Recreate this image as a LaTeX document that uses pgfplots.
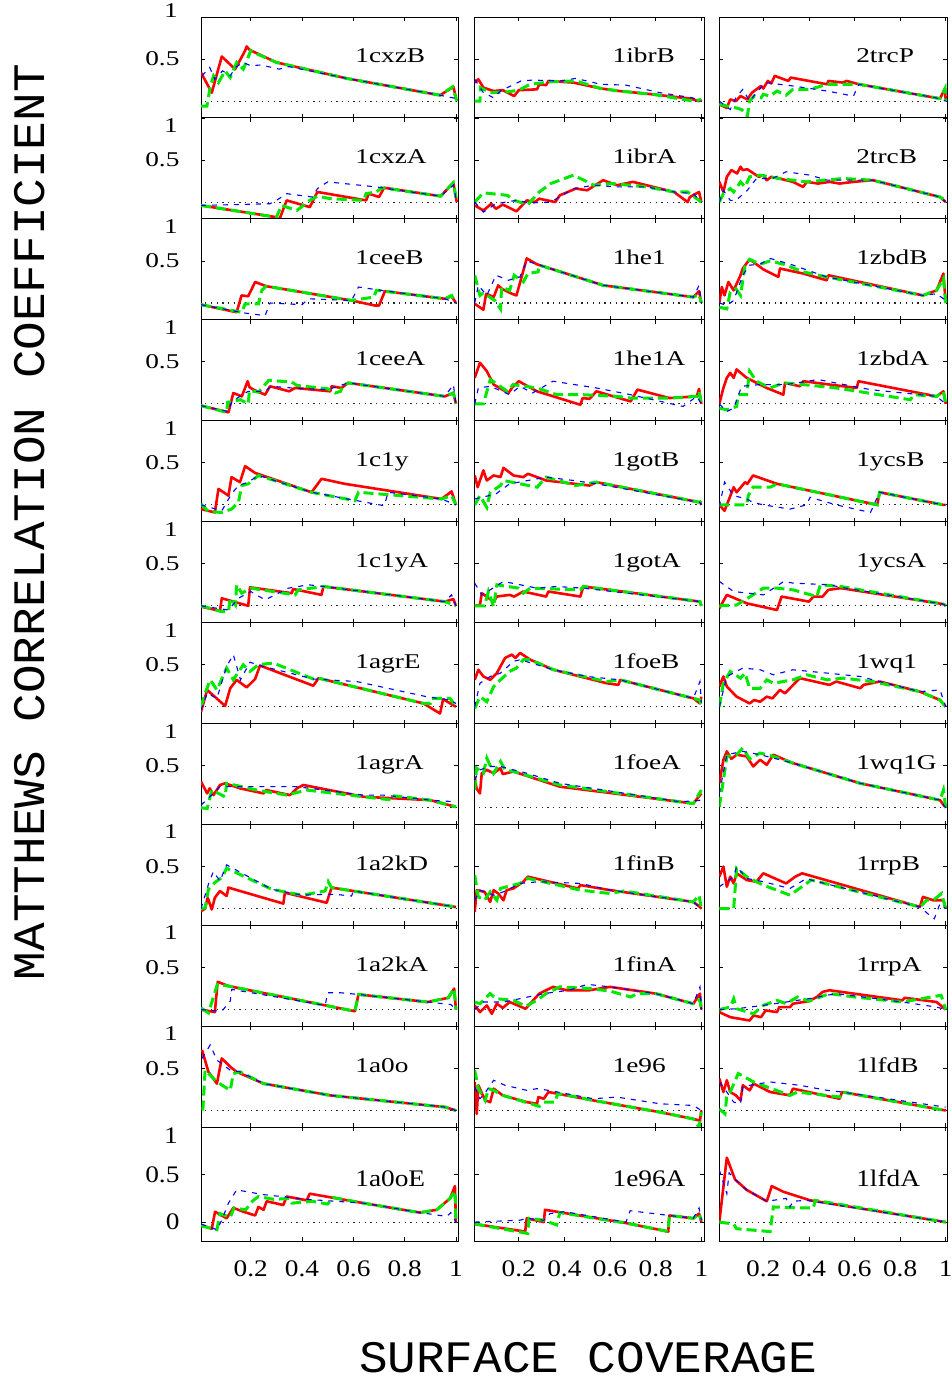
\documentclass[border=0pt]{standalone}
\usepackage{fontspec}
\usepackage{graphicx}
\setmainfont{Liberation Serif}[FakeStretch=1.3]
\newfontfamily\monofont{Liberation Mono}[FakeStretch=1.06]
\usepackage{pgfplots}
\pgfplotsset{compat=1.18}
\definecolor{gnred}{RGB}{255,0,0}
\definecolor{gngreen}{RGB}{0,232,0}
\definecolor{gnblue}{RGB}{0,0,255}
\newcommand\vs[1]{\scalebox{1}[1.13]{#1}}
\tikzset{onelab/.style={anchor=east, inner sep=0pt, xshift=-23pt, font=\fontsize{21}{21}\selectfont},
 ttl/.style={anchor=base west, inner sep=0pt, font=\fontsize{21}{21}\selectfont}}
\pgfplotsset{
 pan/.style={scale only axis, anchor=north west, ymin=-0.2, ymax=1, clip=true,
   xtick={0.2,0.4,0.6,0.8,1}, ytick={0.5,1}, xticklabels={}, yticklabels={},
   tick align=inside, major tick length=4pt, tick style={black, line width=0.8pt},
   axis line style={black, line width=1pt},
   every tick label/.append style={font=\fontsize{21}{21}\selectfont},
   yticklabel style={xshift=-18pt},
   xticklabel style={yshift=-16pt},
   height=100.94pt},
 c1/.style={width=257pt, xmin=0.006, xmax=1.008},
 c2/.style={width=229.6pt, xmin=0.007, xmax=1.013},
 c3/.style={width=228pt, xmin=0.007, xmax=1.007},
 ylt/.style={yticklabels={0.5,{}}, extra description/.code={\node[onelab, yshift=6pt] at (rel axis cs:0,1) {1};}},
 yl/.style={yticklabels={0.5,{}}, extra description/.code={\node[onelab, yshift=-7.5pt] at (rel axis cs:0,1) {1};}},
 last/.style={height=113.7pt, ytick={0,0.5,1}, xticklabels={\vs{0.2},\vs{0.4},\vs{0.6},\vs{0.8},\vs{1}}},
 lastl/.style={last, yticklabels={\vs{0},\vs{0.5},{}}, extra description/.code={\node[onelab, yshift=-8pt] at (rel axis cs:0,1) {\vs{1}};}},
 zl/.style={black!85, line width=1.1pt, dash pattern=on 1.3pt off 4.4pt},
 rl/.style={gnred, line width=2.6pt, line join=round},
 gl/.style={gngreen, line width=3pt, dash pattern=on 10pt off 5pt},
 bl/.style={gnblue, line width=1.1pt, dash pattern=on 5pt off 6pt},
}
\newcommand\panel[9]{%
\begin{axis}[pan,#1,at={(#2pt,-#3pt)},#4]
\addplot[zl] coordinates {(0,0)(1.02,0)};
\addplot[rl] coordinates {#7};
\addplot[gl] coordinates {#8};
\addplot[bl] coordinates {#9};
\node[ttl] at (rel axis cs:0.6,#6) {#5};
\end{axis}}
\begin{document}
\begin{tikzpicture}
\path[use as bounding box] (0pt,0pt) rectangle (952pt,-1379pt);
% ---------------- column 1 ----------------
\panel{c1}{201}{17}{ylt}{1cxzB}{0.545}
{(0.006,0.34)(0.048,0.10)(0.087,0.53)(0.139,0.38)(0.171,0.56)(0.178,0.60)(0.184,0.65)(0.195,0.61)(0.30,0.46)(0.574,0.27)(0.938,0.07)(0.99,0.17)(1.003,0)}
{(0.006,-0.06)(0.029,-0.06)(0.042,0.17)(0.055,0.30)(0.074,0.22)(0.10,0.36)(0.12,0.28)(0.145,0.46)(0.171,0.38)(0.20,0.60)(0.21,0.58)(0.30,0.46)(0.574,0.27)(0.938,0.07)(0.987,0.17)(1.003,0)}
{(0.01,0.30)(0.04,0.40)(0.06,0.26)(0.09,0.36)(0.12,0.30)(0.14,0.40)(0.17,0.46)(0.20,0.42)(0.24,0.43)(0.31,0.38)(0.35,0.41)(0.574,0.27)(0.938,0.07)(0.97,0.05)(1.003,0.03)}
\panel{c1}{201}{117.94}{yl}{1cxzA}{0.545}
{(0.006,-0.04)(0.30,-0.18)(0.31,-0.22)(0.34,0.02)(0.43,-0.06)(0.46,0.12)(0.65,0.02)(0.66,0.10)(0.70,0.06)(0.72,0.17)(0.94,0.07)(0.99,0.23)(1.003,0)}
{(0.006,-0.04)(0.30,-0.18)(0.32,-0.04)(0.38,-0.10)(0.43,0.02)(0.46,0.07)(0.51,0.04)(0.64,0.02)(0.65,0.10)(0.69,0.12)(0.71,0.17)(0.94,0.07)(0.99,0.23)(1.003,0)}
{(0.006,-0.04)(0.275,-0.02)(0.30,0.02)(0.34,0.10)(0.44,0.06)(0.46,0.16)(0.50,0.24)(0.69,0.18)(0.94,0.07)(0.99,0.20)(1.003,0)}
\panel{c1}{201}{218.88}{yl}{1ceeB}{0.545}
{(0.006,-0.02)(0.145,-0.11)(0.164,0.09)(0.19,0.08)(0.217,0.25)(0.26,0.20)(0.593,0.03)(0.684,-0.03)(0.70,-0.03)(0.723,0.14)(0.957,0.05)(0.983,0.08)(1.0,0)}
{(0.006,-0.02)(0.165,-0.11)(0.178,-0.01)(0.23,-0.01)(0.243,0.15)(0.26,0.20)(0.593,0.03)(0.68,0.07)(0.69,0.15)(0.723,0.14)(0.957,0.05)(0.983,0.09)(1.0,0)}
{(0.006,-0.02)(0.178,-0.12)(0.256,-0.15)(0.275,0)(0.40,-0.02)(0.425,0.05)(0.593,0.03)(0.62,0.19)(0.71,0.15)(0.957,0.05)(1.0,0)}
\panel{c1}{201}{319.82}{yl}{1ceeA}{0.545}
{(0.006,-0.02)(0.113,-0.10)(0.132,0.13)(0.165,0.09)(0.188,0.27)(0.195,0.20)(0.21,0.17)(0.256,0.11)(0.275,0.21)(0.35,0.15)(0.373,0.19)(0.51,0.15)(0.515,0.21)(0.554,0.19)(0.58,0.25)(0.957,0.09)(0.99,0.13)(1.0,0)}
{(0.006,-0.02)(0.106,-0.10)(0.11,0.02)(0.16,0.05)(0.19,0.0)(0.195,0.16)(0.23,0.14)(0.27,0.28)(0.36,0.26)(0.38,0.22)(0.50,0.18)(0.53,0.13)(0.55,0.15)(0.56,0.22)(0.58,0.25)(0.957,0.09)(0.99,0.13)(1.0,0)}
{(0.006,-0.02)(0.113,-0.09)(0.126,0.03)(0.19,0.15)(0.256,0.15)(0.28,0.21)(0.36,0.19)(0.50,0.17)(0.58,0.25)(0.957,0.09)(0.99,0.23)(1.0,0)}
\panel{c1}{201}{420.76}{yl}{1c1y}{0.545}
{(0.006,-0.05)(0.06,-0.09)(0.074,0.19)(0.113,0.11)(0.125,0.33)(0.158,0.27)(0.178,0.46)(0.217,0.38)(0.437,0.15)(0.476,0.31)(0.567,0.25)(0.944,0.07)(0.983,0.16)(1.0,0)}
{(0.006,0.01)(0.035,-0.08)(0.087,-0.09)(0.125,-0.05)(0.152,0.03)(0.165,0.23)(0.19,0.25)(0.23,0.35)(0.437,0.15)(0.606,0.05)(0.62,0.15)(0.944,0.07)(0.983,0.11)(1.0,0)}
{(0.006,0)(0.087,-0.07)(0.125,0.13)(0.152,0.23)(0.19,0.27)(0.23,0.35)(0.437,0.15)(0.72,-0.01)(0.736,0.15)(0.944,0.07)(1.0,0)}
\panel{c1}{201}{521.70}{yl}{1c1yA}{0.545}
{(0.006,-0.01)(0.08,-0.06)(0.087,0.09)(0.19,0)(0.197,0.22)(0.36,0.15)(0.365,0.20)(0.476,0.13)(0.483,0.23)(0.957,0.05)(0.99,0.08)(1.0,0)}
{(0.006,0)(0.087,-0.07)(0.113,-0.07)(0.12,0.09)(0.14,0.01)(0.145,0.25)(0.165,0.15)(0.20,0.21)(0.373,0.13)(0.385,0.19)(0.437,0.21)(0.483,0.23)(0.957,0.05)(1.0,0)}
{(0.006,0)(0.113,-0.05)(0.152,0.09)(0.20,0.17)(0.256,0.07)(0.346,0.21)(0.425,0.25)(0.483,0.23)(0.957,0.05)(0.983,0.13)(1.0,0)}
\panel{c1}{201}{622.64}{yl}{1agrE}{0.545}
{(0.006,-0.06)(0.03,0.20)(0.10,0.01)(0.12,0.22)(0.145,0.32)(0.184,0.23)(0.217,0.33)(0.236,0.49)(0.444,0.25)(0.464,0.34)(0.873,0.04)(0.938,-0.08)(0.95,0.09)(1.0,0)}
{(0.006,0)(0.022,0.16)(0.042,0.32)(0.068,0.20)(0.106,0.46)(0.132,0.32)(0.171,0.50)(0.197,0.42)(0.23,0.50)(0.288,0.52)(0.444,0.33)(0.464,0.34)(0.873,0.04)(0.90,0.04)(0.905,0.10)(0.977,0.10)(1.0,0)}
{(0.006,-0.04)(0.03,0.16)(0.068,0.10)(0.106,0.48)(0.132,0.62)(0.16,0.32)(0.197,0.53)(0.236,0.49)(0.444,0.33)(0.613,0.30)(0.885,0.12)(0.977,0.08)(1.0,0.04)}
\panel{c1}{201}{723.58}{yl}{1agrA}{0.545}
{(0.006,0.31)(0.03,0.17)(0.04,0.23)(0.055,0.15)(0.08,0.27)(0.10,0.29)(0.158,0.23)(0.25,0.17)(0.26,0.21)(0.353,0.15)(0.38,0.23)(0.405,0.27)(0.64,0.13)(0.90,0.09)(1.0,0.01)}
{(0.006,0)(0.03,-0.01)(0.048,0.21)(0.10,0.13)(0.106,0.29)(0.223,0.21)(0.34,0.15)(0.418,0.21)(0.64,0.13)(0.756,0.09)(0.76,0.14)(0.90,0.09)(1.0,0.01)}
{(0.006,0.03)(0.04,0.13)(0.08,0.25)(0.25,0.25)(0.38,0.25)(0.64,0.15)(0.717,0.15)(0.90,0.09)(1.0,0.07)}
\panel{c1}{201}{824.52}{yl}{1a2kD}{0.545}
{(0.006,-0.03)(0.022,0)(0.032,0.13)(0.048,-0.01)(0.06,0.13)(0.08,0.21)(0.106,0.15)(0.113,0.25)(0.327,0.06)(0.333,0.19)(0.496,0.07)(0.515,0.25)(1.0,0.02)}
{(0.006,0)(0.022,0.01)(0.035,0.23)(0.06,0.31)(0.087,0.37)(0.106,0.48)(0.282,0.23)(0.40,0.16)(0.49,0.21)(0.502,0.32)(0.515,0.25)(1.0,0.02)}
{(0.006,0)(0.035,0.29)(0.054,0.44)(0.08,0.33)(0.106,0.52)(0.282,0.23)(0.40,0.16)(0.49,0.17)(0.53,0.17)(0.593,0.15)(0.60,0.21)(1.0,0.02)}
\panel{c1}{201}{925.46}{yl}{1a2kA}{0.545}
{(0.006,0)(0.06,-0.03)(0.071,0.33)(0.113,0.28)(0.606,-0.02)(0.62,0.18)(0.89,0.09)(0.97,0.14)(0.993,0.25)(1.0,0)}
{(0.006,0.02)(0.035,-0.04)(0.07,0.30)(0.113,0.28)(0.606,-0.02)(0.62,0.18)(0.89,0.09)(0.97,0.14)(0.993,0.25)(1.0,0)}
{(0.006,0)(0.087,-0.02)(0.12,0.10)(0.126,0.24)(0.49,0.05)(0.50,0.20)(0.55,0.20)(0.62,0.18)(0.89,0.09)(0.98,0.06)(1.0,0)}
\panel{c1}{201}{1026.40}{yl}{1a0o}{0.545}
{(0.01,0.72)(0.035,0.46)(0.068,0.32)(0.087,0.62)(0.12,0.52)(0.145,0.46)(0.25,0.32)(0.51,0.18)(0.96,0.04)(1.0,0)}
{(0.013,0)(0.022,0.48)(0.068,0.34)(0.12,0.24)(0.132,0.44)(0.158,0.46)(0.25,0.32)(0.51,0.18)(0.96,0.04)(1.0,0)}
{(0.01,0.62)(0.042,0.78)(0.068,0.60)(0.12,0.48)(0.158,0.46)(0.25,0.32)(0.51,0.18)(0.96,0.04)(1.0,0)}
\panel{c1}{201}{1127.34}{lastl}{\vs{1a0oE}}{0.484}
{(0.006,-0.03)(0.048,-0.07)(0.061,0.11)(0.106,0.04)(0.132,0.15)(0.171,0.11)(0.217,0.07)(0.23,0.16)(0.25,0.13)(0.262,0.22)(0.327,0.18)(0.34,0.27)(0.418,0.23)(0.43,0.30)(0.64,0.20)(0.86,0.10)(0.925,0.13)(0.977,0.25)(0.996,0.38)(1.0,0)}
{(0.006,-0.04)(0.068,-0.08)(0.08,0.09)(0.12,0.05)(0.135,0.15)(0.18,0.13)(0.21,0.23)(0.23,0.27)(0.29,0.24)(0.35,0.25)(0.36,0.20)(0.44,0.22)(0.50,0.19)(0.52,0.26)(0.64,0.20)(0.86,0.10)(0.925,0.13)(0.977,0.25)(0.996,0.33)(1.0,0)}
{(0.006,-0.02)(0.068,-0.08)(0.087,0.02)(0.113,0.20)(0.145,0.34)(0.25,0.29)(0.42,0.24)(0.64,0.20)(0.86,0.10)(0.964,0.06)(0.98,0.10)(1.0,0)}
% ---------------- column 2 ----------------
\panel{c2}{474.7}{17}{}{1ibrB}{0.545}
{(0.007,0.22)(0.023,0.26)(0.045,0.16)(0.09,0.12)(0.13,0.13)(0.18,0.06)(0.20,0.13)(0.28,0.14)(0.29,0.20)(0.32,0.19)(0.33,0.24)(0.44,0.22)(0.56,0.15)(0.64,0.12)(0.79,0.08)(0.95,0.03)(0.99,0)(1.0,0.02)}
{(0.007,0)(0.03,0)(0.032,0.16)(0.075,0.10)(0.15,0.11)(0.20,0.13)(0.25,0.20)(0.34,0.23)(0.45,0.24)(0.56,0.15)(0.64,0.12)(0.79,0.08)(0.965,0)(1.0,0.02)}
{(0.007,0.26)(0.045,0.10)(0.09,0.04)(0.12,0.12)(0.21,0.24)(0.26,0.25)(0.38,0.24)(0.45,0.27)(0.56,0.20)(0.67,0.19)(0.82,0.10)(0.96,0.04)(1.0,0)}
\panel{c2}{474.7}{117.94}{}{1ibrA}{0.545}
{(0.007,-0.04)(0.045,-0.10)(0.08,-0.02)(0.10,-0.08)(0.13,-0.03)(0.19,-0.11)(0.235,0.02)(0.27,0)(0.29,0.04)(0.36,0)(0.38,0.08)(0.45,0.16)(0.50,0.14)(0.57,0.26)(0.63,0.20)(0.70,0.24)(0.88,0.12)(0.94,0)(0.95,0.06)(0.99,0.12)(1.0,0)}
{(0.007,0)(0.045,0.11)(0.15,0.08)(0.18,0.02)(0.24,-0.03)(0.29,0.12)(0.34,0.22)(0.44,0.32)(0.53,0.20)(0.61,0.22)(0.76,0.18)(0.88,0.12)(0.94,0.12)(1.0,0)}
{(0.007,0)(0.045,-0.12)(0.10,-0.02)(0.19,0.02)(0.25,-0.01)(0.34,0)(0.44,0.16)(0.53,0.20)(0.63,0.18)(0.76,0.18)(0.88,0.12)(0.965,0.10)(1.0,0)}
\panel{c2}{474.7}{218.88}{}{1he1}{0.545}
{(0.007,-0.01)(0.045,-0.08)(0.057,0.11)(0.09,0.07)(0.11,0.21)(0.125,0.17)(0.17,0.11)(0.19,0.09)(0.235,0.53)(0.28,0.46)(0.57,0.21)(0.965,0.07)(0.99,0.14)(1.0,0)}
{(0.007,0.33)(0.03,0.09)(0.045,0.12)(0.095,0.03)(0.12,-0.07)(0.125,0.19)(0.16,0.15)(0.18,0.33)(0.22,0.25)(0.24,0.35)(0.285,0.37)(0.29,0.45)(0.57,0.21)(0.965,0.07)(0.99,0.10)(1.0,0)}
{(0.007,0)(0.023,0.21)(0.06,0.09)(0.10,0.33)(0.155,0.27)(0.205,0.31)(0.235,0.50)(0.28,0.46)(0.57,0.21)(0.965,0.07)(0.99,0.21)(1.0,0)}
\panel{c2}{474.7}{319.82}{}{1he1A}{0.545}
{(0.007,0.31)(0.03,0.49)(0.06,0.39)(0.09,0.23)(0.155,0.13)(0.17,0.19)(0.20,0.27)(0.28,0.15)(0.47,-0.01)(0.48,0.07)(0.51,0.06)(0.54,0.15)(0.69,0.03)(0.72,0.17)(0.86,0.07)(0.98,0.09)(0.99,0.18)(1.0,0)}
{(0.007,0)(0.045,0)(0.075,0.29)(0.15,0.15)(0.175,0.23)(0.28,0.19)(0.367,0.11)(0.48,0.11)(0.63,0.09)(0.69,0.07)(0.78,0.07)(0.86,0.07)(0.98,0.09)(0.99,0.15)(1.0,0)}
{(0.007,0)(0.023,0.19)(0.075,0.21)(0.16,0.11)(0.205,0.21)(0.26,0.13)(0.35,0.27)(0.54,0.19)(0.69,0.11)(0.92,-0.03)(0.98,0.09)(1.0,0)}
\panel{c2}{474.7}{420.76}{}{1gotB}{0.545}
{(0.007,0.35)(0.02,0.21)(0.045,0.41)(0.06,0.29)(0.09,0.35)(0.12,0.33)(0.133,0.44)(0.177,0.35)(0.22,0.33)(0.24,0.37)(0.32,0.29)(0.51,0.23)(0.54,0.27)(0.994,0.03)(1.0,0)}
{(0.007,0)(0.03,0.11)(0.06,-0.03)(0.075,0.15)(0.12,0.23)(0.133,0.29)(0.28,0.21)(0.32,0.33)(0.45,0.23)(0.54,0.27)(0.994,0.03)(1.0,0.05)}
{(0.007,0.07)(0.10,0.13)(0.16,0.25)(0.20,0.27)(0.32,0.33)(0.44,0.29)(0.54,0.25)(0.994,0.03)(1.0,0)}
\panel{c2}{474.7}{521.70}{}{1gotA}{0.545}
{(0.007,0)(0.03,0.01)(0.038,0.15)(0.09,0.05)(0.104,0.11)(0.16,0.13)(0.18,0.11)(0.22,0.17)(0.32,0.11)(0.33,0.17)(0.47,0.11)(0.483,0.23)(0.994,0.05)(1.0,0)}
{(0.007,0)(0.05,0)(0.067,0.17)(0.09,-0.01)(0.104,0.25)(0.20,0.21)(0.22,0.15)(0.25,0.21)(0.47,0.19)(0.483,0.23)(0.994,0.05)(1.0,0)}
{(0.007,0.27)(0.038,0.13)(0.075,0.19)(0.133,0.29)(0.28,0.21)(0.365,0.23)(0.483,0.21)(0.994,0.05)(1.0,0)}
\panel{c2}{474.7}{622.64}{}{1foeB}{0.545}
{(0.007,0.32)(0.023,0.44)(0.045,0.36)(0.075,0.32)(0.104,0.40)(0.14,0.58)(0.17,0.62)(0.185,0.58)(0.206,0.64)(0.25,0.56)(0.352,0.44)(0.585,0.28)(0.637,0.26)(0.644,0.32)(0.965,0.10)(0.994,0.04)(1.0,0.12)}
{(0.007,-0.02)(0.03,0.12)(0.06,0.06)(0.09,0.24)(0.12,0.32)(0.16,0.42)(0.19,0.46)(0.22,0.56)(0.25,0.56)(0.352,0.44)(0.585,0.30)(0.644,0.32)(0.965,0.10)(0.994,0.08)(1.0,0)}
{(0.007,0)(0.03,0.28)(0.075,0.36)(0.12,0.40)(0.177,0.54)(0.206,0.56)(0.352,0.44)(0.50,0.36)(0.644,0.32)(0.965,0.10)(0.994,0.30)(1.0,0.05)}
\panel{c2}{474.7}{723.58}{}{1foeA}{0.545}
{(0.007,0.37)(0.015,0.23)(0.03,0.17)(0.038,0.41)(0.06,0.45)(0.09,0.41)(0.12,0.47)(0.13,0.40)(0.177,0.43)(0.38,0.25)(0.907,0.07)(0.965,0.05)(1.0,0.17)}
{(0.007,0.21)(0.015,0.47)(0.045,0.41)(0.06,0.59)(0.09,0.41)(0.12,0.55)(0.14,0.45)(0.177,0.43)(0.38,0.27)(0.907,0.07)(0.965,0.05)(1.0,0.21)}
{(0.007,0.33)(0.03,0.45)(0.075,0.49)(0.12,0.49)(0.235,0.41)(0.38,0.29)(0.907,0.07)(1.0,0.09)}
\panel{c2}{474.7}{824.52}{}{1finB}{0.545}
{(0.007,-0.04)(0.016,0.22)(0.05,0.20)(0.075,0.08)(0.09,0.22)(0.11,0.18)(0.133,0.10)(0.147,0.22)(0.177,0.24)(0.22,0.32)(0.24,0.38)(0.46,0.24)(0.47,0.28)(0.60,0.22)(0.965,0.08)(0.994,0.02)(1.0,0)}
{(0.007,0.40)(0.023,0.14)(0.05,0.10)(0.075,0.20)(0.104,0.10)(0.12,0.24)(0.147,0.26)(0.206,0.30)(0.24,0.36)(0.47,0.22)(0.60,0.18)(0.66,0.21)(0.965,0.08)(0.99,0.16)(1.0,0)}
{(0.007,0.10)(0.03,0.22)(0.09,0.16)(0.133,0.20)(0.206,0.30)(0.29,0.32)(0.47,0.30)(0.60,0.22)(0.965,0.08)(1.0,0)}
\panel{c2}{474.7}{925.46}{}{1finA}{0.545}
{(0.007,0.05)(0.03,-0.03)(0.06,0.05)(0.082,-0.05)(0.104,0.07)(0.13,0.02)(0.16,0.09)(0.23,0.01)(0.29,0.19)(0.35,0.27)(0.41,0.23)(0.51,0.23)(0.60,0.27)(0.80,0.19)(0.965,0.07)(0.994,0.19)(1.0,0)}
{(0.007,0.09)(0.03,0.07)(0.075,0.19)(0.10,0.13)(0.177,0.11)(0.23,0.04)(0.28,0.11)(0.32,0.19)(0.38,0.27)(0.51,0.25)(0.60,0.22)(0.69,0.15)(0.72,0.19)(0.80,0.19)(0.965,0.07)(0.994,0.12)(1.0,0)}
{(0.007,0)(0.045,0.09)(0.133,0.09)(0.206,0.13)(0.31,0.19)(0.42,0.23)(0.50,0.30)(0.60,0.27)(0.80,0.19)(0.965,0.07)(0.994,0.27)(1.0,0)}
\panel{c2}{474.7}{1026.40}{}{1e96}{0.545}
{(0.007,0.34)(0.016,-0.04)(0.023,0.30)(0.053,0.12)(0.075,0.10)(0.09,0.26)(0.13,0.18)(0.235,0.10)(0.28,0.08)(0.286,0.16)(0.31,0.14)(0.33,0.22)(0.527,0.12)(0.82,-0.02)(0.965,-0.10)(0.994,-0.12)(1.0,0)}
{(0.007,0.48)(0.023,0.26)(0.053,0.12)(0.067,0.26)(0.09,0.24)(0.13,0.18)(0.29,0.05)(0.31,0.10)(0.36,0.10)(0.37,0.20)(0.40,0.19)(0.527,0.12)(0.82,-0.02)(0.965,-0.10)(0.99,-0.20)(1.0,-0.02)}
{(0.007,0.28)(0.03,0.14)(0.05,0.20)(0.09,0.36)(0.14,0.30)(0.235,0.24)(0.28,0.26)(0.33,0.24)(0.527,0.14)(0.63,0.16)(0.82,0.08)(0.965,0.06)(1.0,0)}
\panel{c2}{474.7}{1127.34}{last}{\vs{1e96A}}{0.484}
{(0.007,-0.02)(0.228,-0.10)(0.235,0.04)(0.31,0)(0.315,0.13)(0.67,-0.01)(0.855,-0.10)(0.86,0.07)(0.965,0.04)(0.99,0.09)(1.0,0)}
{(0.007,-0.02)(0.24,-0.12)(0.245,0.04)(0.31,0.02)(0.366,-0.03)(0.38,0.10)(0.67,-0.01)(0.855,-0.10)(0.86,0.07)(0.965,0.04)(0.99,0.09)(1.0,0.02)}
{(0.007,0)(0.206,0.02)(0.235,0.04)(0.31,0.02)(0.337,0.09)(0.40,0.11)(0.67,0)(0.688,0.12)(0.86,0.07)(0.965,0.04)(0.99,0.15)(1.0,0.02)}
% ---------------- column 3 ----------------
\panel{c3}{719.3}{17}{}{2trcP}{0.545}
{(0.007,-0.04)(0.04,-0.08)(0.055,0.02)(0.08,0)(0.10,0.06)(0.13,0.02)(0.15,0.10)(0.19,0.18)(0.20,0.15)(0.22,0.24)(0.235,0.21)(0.25,0.30)(0.31,0.24)(0.32,0.28)(0.48,0.20)(0.485,0.24)(0.55,0.22)(0.565,0.24)(0.62,0.20)(0.975,0.03)(0.997,0.15)(1.0,0)}
{(0.007,-0.04)(0.08,-0.08)(0.105,-0.10)(0.13,-0.18)(0.14,0)(0.16,0.06)(0.19,0.04)(0.20,0.08)(0.23,0.06)(0.26,0.12)(0.30,0.07)(0.33,0.14)(0.405,0.14)(0.48,0.20)(0.62,0.20)(0.975,0.03)(0.997,0.15)(1.0,0)}
{(0.007,0)(0.055,-0.10)(0.08,0.04)(0.11,0.14)(0.14,0)(0.17,0.10)(0.21,0.22)(0.33,0.18)(0.48,0.12)(0.595,0.06)(0.62,0.20)(0.975,0.03)(1.0,0)}
\panel{c3}{719.3}{117.94}{}{2trcB}{0.545}
{(0.007,0.24)(0.025,0.12)(0.04,0.30)(0.06,0.38)(0.085,0.34)(0.10,0.42)(0.11,0.38)(0.13,0.39)(0.18,0.30)(0.20,0.32)(0.215,0.26)(0.235,0.30)(0.27,0.28)(0.33,0.24)(0.375,0.18)(0.39,0.24)(0.44,0.22)(0.49,0.24)(0.535,0.22)(0.595,0.24)(0.68,0.26)(0.975,0.06)(1.0,0)}
{(0.007,0)(0.025,0.10)(0.055,0.16)(0.07,0.12)(0.10,0.24)(0.12,0.18)(0.14,0.30)(0.185,0.32)(0.27,0.28)(0.39,0.24)(0.55,0.28)(0.68,0.26)(0.975,0.06)(1.0,0.02)}
{(0.007,0)(0.025,0.14)(0.055,0.02)(0.08,0.02)(0.13,0.14)(0.17,0.28)(0.24,0.28)(0.30,0.36)(0.405,0.32)(0.48,0.26)(0.55,0.26)(0.68,0.26)(0.975,0.06)(1.0,0)}
\panel{c3}{719.3}{218.88}{}{1zbdB}{0.545}
{(0.007,0)(0.018,0.19)(0.03,0.09)(0.047,0.25)(0.07,0.15)(0.10,0.33)(0.11,0.41)(0.14,0.52)(0.20,0.40)(0.266,0.31)(0.273,0.41)(0.375,0.35)(0.478,0.27)(0.485,0.33)(0.90,0.09)(0.96,0.15)(0.99,0.35)(1.0,0)}
{(0.007,-0.05)(0.04,-0.07)(0.055,0.13)(0.08,0.17)(0.10,0.09)(0.12,0.45)(0.14,0.52)(0.185,0.46)(0.23,0.50)(0.29,0.46)(0.375,0.37)(0.478,0.31)(0.90,0.09)(0.96,0.15)(0.99,0.29)(1.0,0)}
{(0.007,0)(0.04,-0.03)(0.07,0.03)(0.11,0.33)(0.14,0.45)(0.185,0.46)(0.23,0.53)(0.32,0.46)(0.478,0.31)(0.90,0.09)(0.96,0.11)(1.0,0.03)}
\panel{c3}{719.3}{319.82}{}{1zbdA}{0.545}
{(0.007,0)(0.025,0.19)(0.04,0.31)(0.055,0.37)(0.07,0.31)(0.083,0.41)(0.127,0.31)(0.215,0.19)(0.288,0.11)(0.295,0.25)(0.36,0.21)(0.375,0.27)(0.61,0.19)(0.617,0.27)(0.96,0.09)(0.99,0.15)(1.0,0)}
{(0.007,-0.05)(0.04,-0.07)(0.083,-0.03)(0.09,0.11)(0.127,0.11)(0.14,0.39)(0.17,0.27)(0.23,0.19)(0.29,0.25)(0.375,0.23)(0.52,0.19)(0.845,0.05)(0.86,0.11)(0.96,0.09)(0.99,0.15)(1.0,0)}
{(0.007,0)(0.04,-0.09)(0.07,-0.05)(0.105,0.21)(0.185,0.23)(0.30,0.23)(0.44,0.29)(0.67,0.17)(0.96,0.09)(1.0,0)}
\panel{c3}{719.3}{420.76}{}{1ycsB}{0.545}
{(0.007,0)(0.03,-0.07)(0.07,0.21)(0.083,0.15)(0.12,0.27)(0.13,0.25)(0.155,0.35)(0.26,0.25)(0.70,0)(0.71,0.15)(0.99,0)(1.0,0)}
{(0.007,0)(0.127,0)(0.134,0.11)(0.155,0.21)(0.23,0.21)(0.26,0.25)(0.70,0)(0.71,0.15)(0.99,0)(1.0,0)}
{(0.007,-0.02)(0.03,0.27)(0.07,0.11)(0.127,0.07)(0.155,0.03)(0.20,0)(0.317,-0.05)(0.39,0)(0.405,0.09)(0.52,0)(0.67,-0.09)(0.71,0.15)(0.99,0)(1.0,0)}
\panel{c3}{719.3}{521.70}{}{1ycsA}{0.545}
{(0.007,-0.03)(0.04,0.13)(0.127,0.03)(0.26,-0.05)(0.28,0.11)(0.40,0.05)(0.42,0.11)(0.46,0.11)(0.485,0.19)(0.54,0.21)(0.99,0.02)(1.0,0)}
{(0.007,0)(0.083,0.01)(0.155,0.13)(0.20,0.21)(0.26,0.21)(0.33,0.19)(0.435,0.11)(0.45,0.25)(0.54,0.23)(0.99,0.02)(1.0,0)}
{(0.007,0.29)(0.07,0.17)(0.20,0.13)(0.29,0.29)(0.33,0.27)(0.49,0.25)(0.54,0.22)(0.99,0.02)(1.0,0)}
\panel{c3}{719.3}{622.64}{}{1wq1}{0.545}
{(0.007,0.24)(0.025,0.36)(0.04,0.24)(0.083,0.12)(0.14,0.04)(0.16,0.08)(0.186,0.06)(0.215,0.12)(0.24,0.10)(0.273,0.20)(0.295,0.16)(0.36,0.34)(0.49,0.26)(0.52,0.30)(0.625,0.22)(0.64,0.26)(0.71,0.30)(0.887,0.18)(0.975,0.08)(1.0,0)}
{(0.007,0)(0.025,0.28)(0.055,0.42)(0.10,0.34)(0.12,0.40)(0.14,0.22)(0.186,0.22)(0.215,0.32)(0.244,0.28)(0.33,0.32)(0.39,0.38)(0.48,0.32)(0.55,0.34)(0.68,0.30)(0.887,0.18)(0.975,0.08)(1.0,0)}
{(0.007,0)(0.04,0.36)(0.11,0.46)(0.186,0.44)(0.244,0.38)(0.33,0.44)(0.48,0.40)(0.625,0.36)(0.71,0.30)(0.887,0.18)(0.975,0.20)(1.0,0)}
\panel{c3}{719.3}{723.58}{}{1wq1G}{0.545}
{(0.007,0.29)(0.025,0.57)(0.04,0.67)(0.06,0.58)(0.083,0.63)(0.127,0.61)(0.156,0.49)(0.186,0.57)(0.215,0.51)(0.244,0.63)(0.33,0.53)(0.625,0.29)(0.975,0.09)(1.0,0)}
{(0.007,0.01)(0.025,0.33)(0.04,0.61)(0.083,0.63)(0.11,0.71)(0.14,0.58)(0.186,0.65)(0.244,0.61)(0.33,0.53)(0.625,0.29)(0.975,0.09)(0.99,0.21)(1.0,0)}
{(0.007,0.17)(0.04,0.63)(0.11,0.67)(0.186,0.63)(0.33,0.53)(0.625,0.29)(0.975,0.09)(1.0,0)}
\panel{c3}{719.3}{824.52}{}{1rrpB}{0.545}
{(0.007,0.38)(0.025,0.50)(0.04,0.26)(0.055,0.38)(0.07,0.30)(0.083,0.42)(0.127,0.34)(0.17,0.32)(0.20,0.42)(0.30,0.30)(0.34,0.38)(0.37,0.42)(0.887,0.02)(0.90,0.14)(0.945,0.10)(0.99,0.10)(1.0,0)}
{(0.007,0)(0.07,0)(0.083,0.48)(0.127,0.38)(0.17,0.32)(0.20,0.28)(0.317,0.16)(0.39,0.30)(0.41,0.34)(0.887,0.02)(0.917,0.10)(0.945,0.10)(0.982,0.18)(1.0,0)}
{(0.007,0.26)(0.07,0.38)(0.083,0.50)(0.127,0.36)(0.20,0.32)(0.317,0.24)(0.39,0.36)(0.41,0.34)(0.887,0.02)(0.93,-0.08)(0.95,-0.12)(0.975,0.06)(1.0,0)}
\panel{c3}{719.3}{925.46}{}{1rrpA}{0.545}
{(0.007,-0.03)(0.055,-0.09)(0.14,-0.13)(0.157,-0.07)(0.19,-0.09)(0.21,-0.01)(0.26,-0.03)(0.27,0.03)(0.317,0.03)(0.33,0.07)(0.40,0.10)(0.435,0.15)(0.46,0.21)(0.49,0.23)(0.81,0.11)(0.82,0.14)(0.96,0.09)(1.0,0)}
{(0.007,0)(0.055,0.03)(0.07,0.13)(0.083,0.01)(0.157,-0.05)(0.20,0.05)(0.26,0.11)(0.30,0.07)(0.35,0.15)(0.40,0.10)(0.45,0.15)(0.49,0.19)(0.60,0.15)(0.81,0.09)(0.98,0.17)(1.0,0)}
{(0.007,0)(0.083,0.01)(0.20,0.05)(0.30,0.09)(0.40,0.13)(0.52,0.19)(0.81,0.09)(0.96,0.03)(1.0,0)}
\panel{c3}{719.3}{1026.40}{}{1lfdB}{0.545}
{(0.007,0.38)(0.025,0.22)(0.04,0.36)(0.055,0.22)(0.08,0.18)(0.10,0.12)(0.11,0.30)(0.14,0.24)(0.157,0.32)(0.23,0.22)(0.317,0.18)(0.33,0.26)(0.535,0.14)(0.545,0.22)(1.0,0)}
{(0.007,0.02)(0.032,-0.04)(0.04,0.18)(0.055,0.22)(0.09,0.44)(0.157,0.34)(0.317,0.18)(0.35,0.22)(0.535,0.16)(0.545,0.22)(1.0,0)}
{(0.007,0.34)(0.04,0.22)(0.07,0.10)(0.10,0.08)(0.11,0.28)(0.14,0.30)(0.23,0.34)(0.36,0.30)(0.48,0.24)(0.545,0.22)(1.0,0.04)}
\panel{c3}{719.3}{1127.34}{last}{\vs{1lfdA}}{0.484}
{(0.007,0)(0.04,0.68)(0.076,0.45)(0.127,0.34)(0.215,0.22)(0.237,0.38)(0.288,0.32)(0.405,0.23)(1.0,0)}
{(0.007,0)(0.07,-0.02)(0.083,-0.07)(0.23,-0.10)(0.244,0.16)(0.347,0.15)(0.42,0.15)(0.427,0.23)(1.0,0)}
{(0.007,0.55)(0.04,0.30)(0.05,0.52)(0.076,0.45)(0.127,0.34)(0.215,0.22)(0.30,0.25)(0.317,0.16)(0.33,0.22)(0.39,0.23)(1.0,0)}
% ---------------- axis titles ----------------
\node[font=\monofont\fontsize{45}{45}\selectfont, rotate=90] at (30pt,-522pt) {MATTHEWS CORRELATION COEFFICIENT};
\node[font=\monofont\fontsize{45}{45}\selectfont] at (588pt,-1358pt) {SURFACE COVERAGE};
\end{tikzpicture}
\end{document}
